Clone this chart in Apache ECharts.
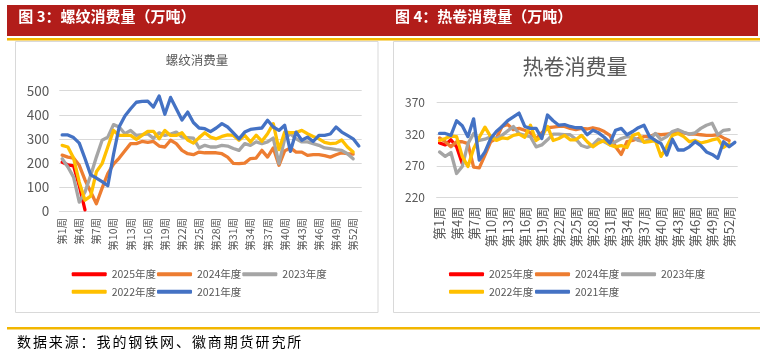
<!DOCTYPE html>
<html>
<head>
<meta charset="utf-8">
<script src="https://cdn.jsdelivr.net/npm/echarts@6/dist/echarts.min.js"></script>
<style>
  html, body { margin: 0; padding: 0; background: #fff; }
  #wrap { position: relative; width: 760px; height: 354px; }
  #main { width: 760px; height: 354px; }
  #source {
    position: absolute; left: 17px; top: 333px;
    font-family: "Noto Sans CJK SC", sans-serif; font-size: 14px;
    letter-spacing: 1.9px; color: #000; line-height: 16px;
  }
</style>
</head>
<body>
<div id="wrap">
  <div id="main"></div>
  <div id="source">数据来源：我的钢铁网、徽商期货研究所</div>
</div>
<script>
// 周次
const weeks = [];
for (let i = 1; i <= 53; i++) weeks.push('第' + i + '周');

const years = ['2025年度', '2024年度', '2023年度', '2022年度', '2021年度'];
const colors = ['#FF0000', '#ED7D31', '#A5A5A5', '#FFC000', '#4472C4'];

// 螺纹消费量
const rebar2025 = [203, 192, 188, 105, 5];
const rebar2024 = [232, 224, 220, 190, 129, 80, 30, 95, 155, 195, 220, 250, 280, 280, 289, 285, 289, 270, 266, 294,
  280, 252, 238, 234, 245, 242, 242, 242, 238, 224, 198, 197, 199, 218, 220, 252, 224, 262, 190, 250,
  262, 245, 245, 231, 234, 234, 230, 224, 234, 242, 238, 236];
const rebar2023 = [217, 183, 141, 37, 79, 148, 224, 294, 307, 359, 349, 321, 335, 314, 317, 321, 302, 325, 314, 320,
  328, 307, 305, 303, 262, 273, 266, 266, 273, 270, 260, 252, 280, 273, 287, 280, 287, 303, 197, 300,
  321, 300, 287, 287, 280, 273, 262, 259, 255, 252, 238, 217];
const rebar2022 = [273, 266, 220, 120, 45, 62, 163, 197, 266, 335, 314, 314, 314, 298, 314, 331, 331, 300, 335, 314,
  314, 325, 295, 282, 305, 325, 307, 300, 310, 316, 314, 294, 314, 287, 315, 290, 321, 363, 255, 328,
  326, 326, 335, 321, 310, 300, 285, 280, 282, 295, 266, 245];
const rebar2021 = [316, 316, 305, 282, 218, 150, 137, 122, 105, 235, 350, 395, 425, 452, 456, 457, 432, 478, 402, 472,
  425, 378, 411, 368, 345, 342, 330, 345, 363, 349, 325, 300, 328, 339, 342, 345, 377, 349, 335, 356,
  248, 328, 294, 307, 289, 314, 314, 320, 349, 328, 314, 300, 270];

// 热卷消费量
const coil2025 = [306, 303, 311, 300, 274];
const coil2024 = [314, 308, 300, 308, 308, 305, 268, 267, 287, 308, 313, 332, 335, 327, 329, 326, 322, 313, 322, 330,
  331, 332, 332, 329, 327, 329, 328, 330, 328, 324, 318, 300, 288, 308, 310, 313, 316, 316, 320, 319,
  320, 321, 322, 322, 320, 320, 319, 318, 318, 319, 314, 310];
const coil2023 = [292, 285, 291, 258, 269, 305, 321, 310, 312, 316, 313, 318, 325, 332, 321, 318, 316, 300, 303, 311,
  320, 320, 319, 319, 312, 302, 299, 303, 312, 308, 303, 308, 313, 316, 315, 310, 308, 312, 321, 311,
  316, 324, 327, 323, 320, 322, 329, 334, 337, 319, 326, 327];
const coil2022 = [310, 313, 317, 316, 285, 269, 297, 315, 331, 316, 310, 314, 313, 318, 320, 315, 334, 310, 316, 332,
  310, 313, 318, 311, 311, 318, 308, 300, 306, 310, 303, 300, 302, 299, 318, 321, 307, 308, 310, 285,
  300, 318, 321, 316, 308, 310, 306, 308, 311, 313, 299, 305];
const coil2021 = [321, 321, 318, 341, 333, 316, 344, 279, 292, 313, 324, 332, 341, 347, 353, 332, 329, 329, 313, 350,
  341, 334, 335, 332, 330, 330, 319, 326, 322, 315, 306, 326, 329, 319, 324, 330, 334, 316, 310, 305,
  287, 312, 295, 295, 300, 308, 302, 292, 288, 282, 308, 300, 307];

const rebarTicks = { min: 0, max: 500, interval: 100 };
const coilTicks = { min: 220, max: 370, interval: 50 };

const font = '"Noto Sans CJK SC", sans-serif';
const grey = '#595959';
const gridLine = '#D9D9D9';

const chart = echarts.init(document.getElementById('main'));

function xAxisOf(gridIndex, fontSize, margin) {
  return {
    type: 'category', gridIndex: gridIndex, data: weeks, boundaryGap: true,
    axisLine: { show: true, lineStyle: { color: gridLine } },
    axisTick: { show: false },
    axisLabel: { interval: 2, rotate: 90, fontSize: fontSize, color: grey, fontFamily: font, margin: margin }
  };
}
function yAxisOf(gridIndex, ticks, fontSize, margin) {
  return {
    type: 'value', gridIndex: gridIndex, min: ticks.min, max: ticks.max, interval: ticks.interval,
    axisLine: { show: false }, axisTick: { show: false },
    splitLine: { lineStyle: { color: gridLine, width: 1 } },
    axisLabel: { fontSize: fontSize, color: grey, fontFamily: font, margin: margin }
  };
}
function lineOf(name, data, idx, axisIdx) {
  return {
    name: name, type: 'line', data: data, xAxisIndex: axisIdx, yAxisIndex: axisIdx,
    symbol: 'none', smooth: false,
    lineStyle: { width: 3.3, color: colors[idx], cap: 'round', join: 'round' },
    itemStyle: { color: colors[idx] }
  };
}
function legendOf(data, left, top, gap) {
  return {
    data: data, left: left, top: top, orient: 'horizontal',
    icon: 'roundRect', itemWidth: 35, itemHeight: 4, itemGap: gap, padding: 0,
    textStyle: { color: grey, fontSize: 10.5, fontFamily: font, padding: [0, 0, 0, 0] }
  };
}

const rebarSeries = [rebar2025, rebar2024, rebar2023, rebar2022, rebar2021];
const coilSeries = [coil2025, coil2024, coil2023, coil2022, coil2021];
const series = [];
years.forEach((y, i) => series.push(lineOf(y, rebarSeries[i], i, 0)));
years.forEach((y, i) => series.push(lineOf(y, coilSeries[i], i, 1)));

const option = {
  animation: false,
  backgroundColor: '#fff',
  grid: [
    { left: 59.3, top: 90.7, width: 302.4, height: 120.3 },
    { left: 436.7, top: 102.3, width: 301, height: 95.4 }
  ],
  xAxis: [xAxisOf(0, 10.5, 7), xAxisOf(1, 13, 9)],
  yAxis: [yAxisOf(0, rebarTicks, 13.5, 10), yAxisOf(1, coilTicks, 12, 11.7)],
  legend: [
    legendOf(years.slice(0, 3), 71.7, 269, 1),
    legendOf(years.slice(3), 71.7, 286.5, 1),
    legendOf(years.slice(0, 3), 449, 269, 1.7),
    legendOf(years.slice(3), 449, 286.5, 1.7)
  ],
  graphic: [
    { type: 'rect', silent: true, shape: { x: 7, y: 5, width: 751, height: 31 }, style: { fill: '#B21D1A' } },
    { type: 'rect', silent: true, shape: { x: 7, y: 38, width: 753, height: 2.5 }, style: { fill: '#F2B600' } },
    { type: 'text', silent: true, x: 18.3, y: 16.5,
      style: { text: '图 3：螺纹消费量（万吨）', fill: '#fff', font: 'bold 15px "Noto Sans CJK SC"',
        align: 'left', verticalAlign: 'middle', textAlign: 'left', textVerticalAlign: 'middle' } },
    { type: 'text', silent: true, x: 395, y: 16.5,
      style: { text: '图 4：热卷消费量（万吨）', fill: '#fff', font: 'bold 15px "Noto Sans CJK SC"',
        align: 'left', verticalAlign: 'middle', textAlign: 'left', textVerticalAlign: 'middle' } },
    { type: 'rect', silent: true, shape: { x: 15.5, y: 41.5, width: 362.5, height: 271 },
      style: { fill: 'none', stroke: gridLine, lineWidth: 1 } },
    { type: 'rect', silent: true, shape: { x: 393.5, y: 41.5, width: 370, height: 271 },
      style: { fill: 'none', stroke: gridLine, lineWidth: 1 } },
    { type: 'text', silent: true, x: 197, y: 60.7,
      style: { text: '螺纹消费量', fill: grey, font: '12.5px "Noto Sans CJK SC"',
        align: 'center', verticalAlign: 'middle', textAlign: 'center', textVerticalAlign: 'middle' } },
    { type: 'text', silent: true, x: 575, y: 66,
      style: { text: '热卷消费量', fill: grey, font: '21px "Noto Sans CJK SC"',
        align: 'center', verticalAlign: 'middle', textAlign: 'center', textVerticalAlign: 'middle' } },
    { type: 'rect', silent: true, shape: { x: 7, y: 327, width: 753, height: 2.5 }, style: { fill: '#F2B600' } }
  ],
  series: series
};

chart.setOption(option);
</script>
</body>
</html>
